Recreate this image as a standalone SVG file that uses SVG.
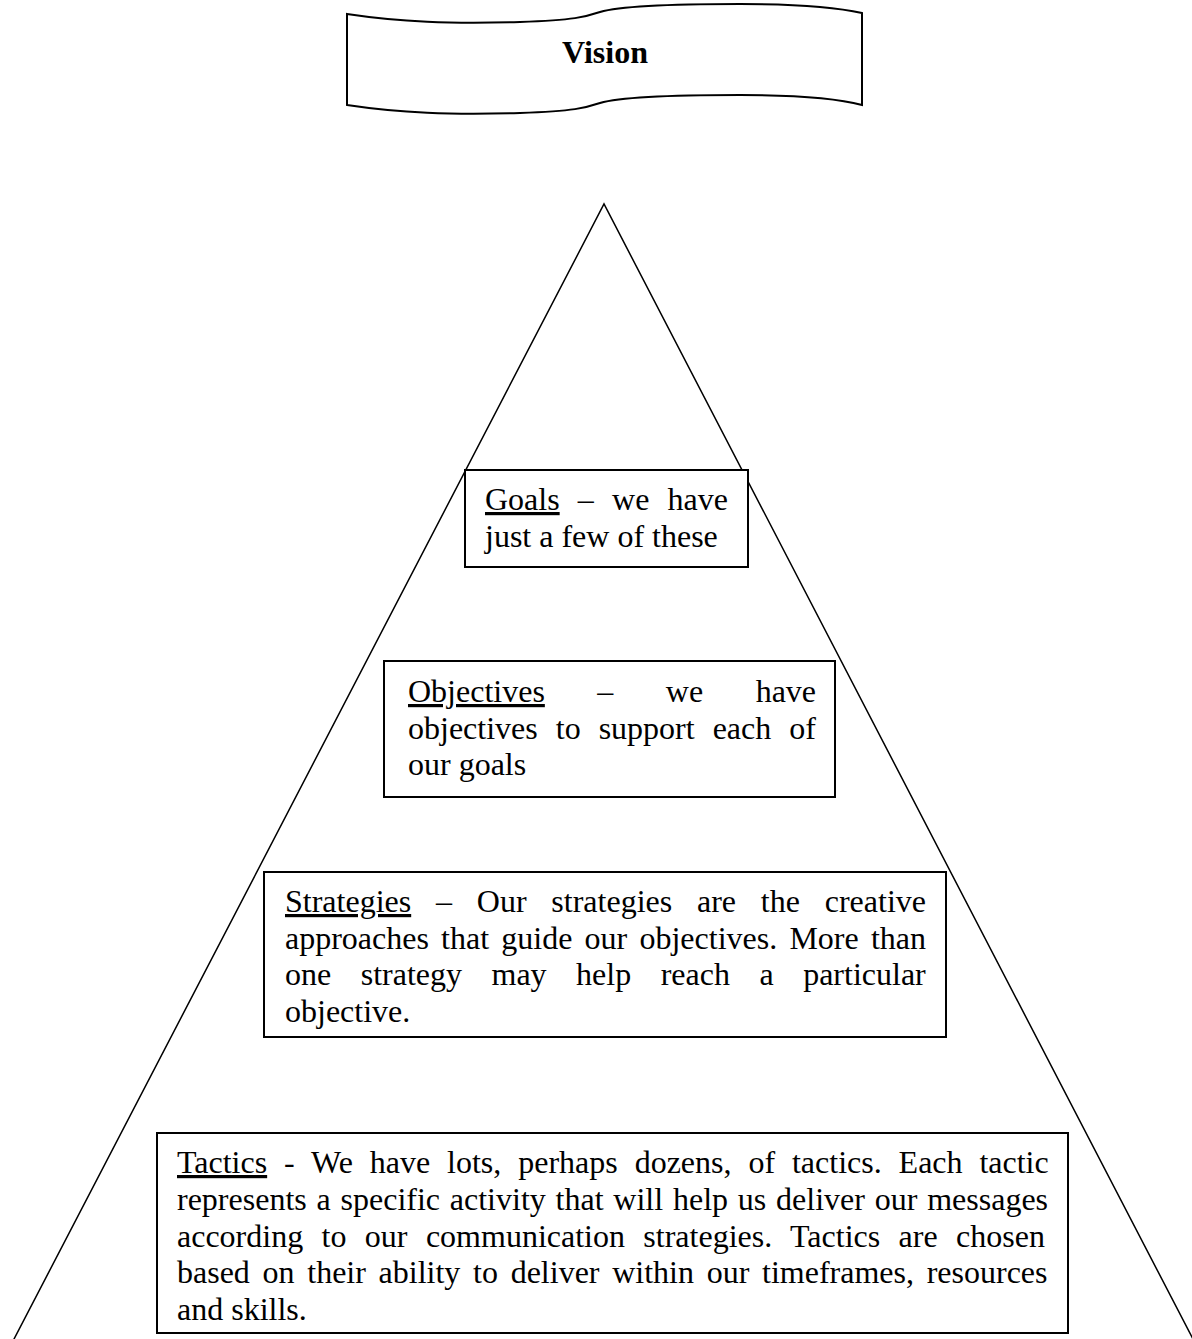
<svg xmlns="http://www.w3.org/2000/svg" width="1192" height="1339" viewBox="0 0 1192 1339">
<style>
  .box{fill:#fff;stroke:#000;stroke-width:2}
  .t{font-family:"Liberation Serif","Times New Roman",serif;font-size:32px;fill:#000}
  .u{text-decoration:underline}
  .edge{fill:none;stroke:#000;stroke-width:1.5}
</style>
<rect width="1192" height="1339" fill="#fff"/>
<g id="connectors">
  <polyline class="edge" points="13,1341 604,204 1194,1341"/>
</g>
<g id="vision">
  <path class="box" d="M347,14 C400,22 450,24 520,22 C575,20 585,17 600,12 C620,6 680,4 740,4 C800,4 840,8 862,13 L862,105 C840,99 800,95 740,95 C680,95 620,97 600,103 C585,108 575,111 520,113 C450,115 400,113 347,105 Z"/>
  <text class="t" x="605" y="63" text-anchor="middle" font-weight="bold">Vision</text>
</g>
<g id="goals">
  <rect class="box" x="465" y="470" width="283" height="97"/>
  <text class="t" x="485" y="510" word-spacing="10.2"><tspan class="u">Goals</tspan> – we have</text>
  <text class="t" x="485" y="547">just a few of these</text>
</g>
<g id="objectives">
  <rect class="box" x="384" y="661" width="451" height="136"/>
  <text class="t" x="408" y="702" word-spacing="44.5"><tspan class="u">Objectives</tspan> – we have</text>
  <text class="t" x="408" y="739" word-spacing="10">objectives to support each of</text>
  <text class="t" x="408" y="775">our goals</text>
</g>
<g id="strategies">
  <rect class="box" x="264" y="872" width="682" height="165"/>
  <text class="t" x="285" y="912" word-spacing="16.8"><tspan class="u">Strategies</tspan> – Our strategies are the creative</text>
  <text class="t" x="285" y="949" word-spacing="4.2">approaches that guide our objectives. More than</text>
  <text class="t" x="285" y="985" word-spacing="21.5">one strategy may help reach a particular</text>
  <text class="t" x="285" y="1022">objective.</text>
</g>
<g id="tactics">
  <rect class="box" x="157" y="1133" width="911" height="200"/>
  <text class="t" x="177" y="1173" word-spacing="8.9"><tspan class="u">Tactics</tspan> - We have lots, perhaps dozens, of tactics. Each tactic</text>
  <text class="t" x="177" y="1210" word-spacing="1.8">represents a specific activity that will help us deliver our messages</text>
  <text class="t" x="177" y="1247" word-spacing="10.4">according to our communication strategies. Tactics are chosen</text>
  <text class="t" x="177" y="1283" word-spacing="4.7">based on their ability to deliver within our timeframes, resources</text>
  <text class="t" x="177" y="1320">and skills.</text>
</g>
</svg>
